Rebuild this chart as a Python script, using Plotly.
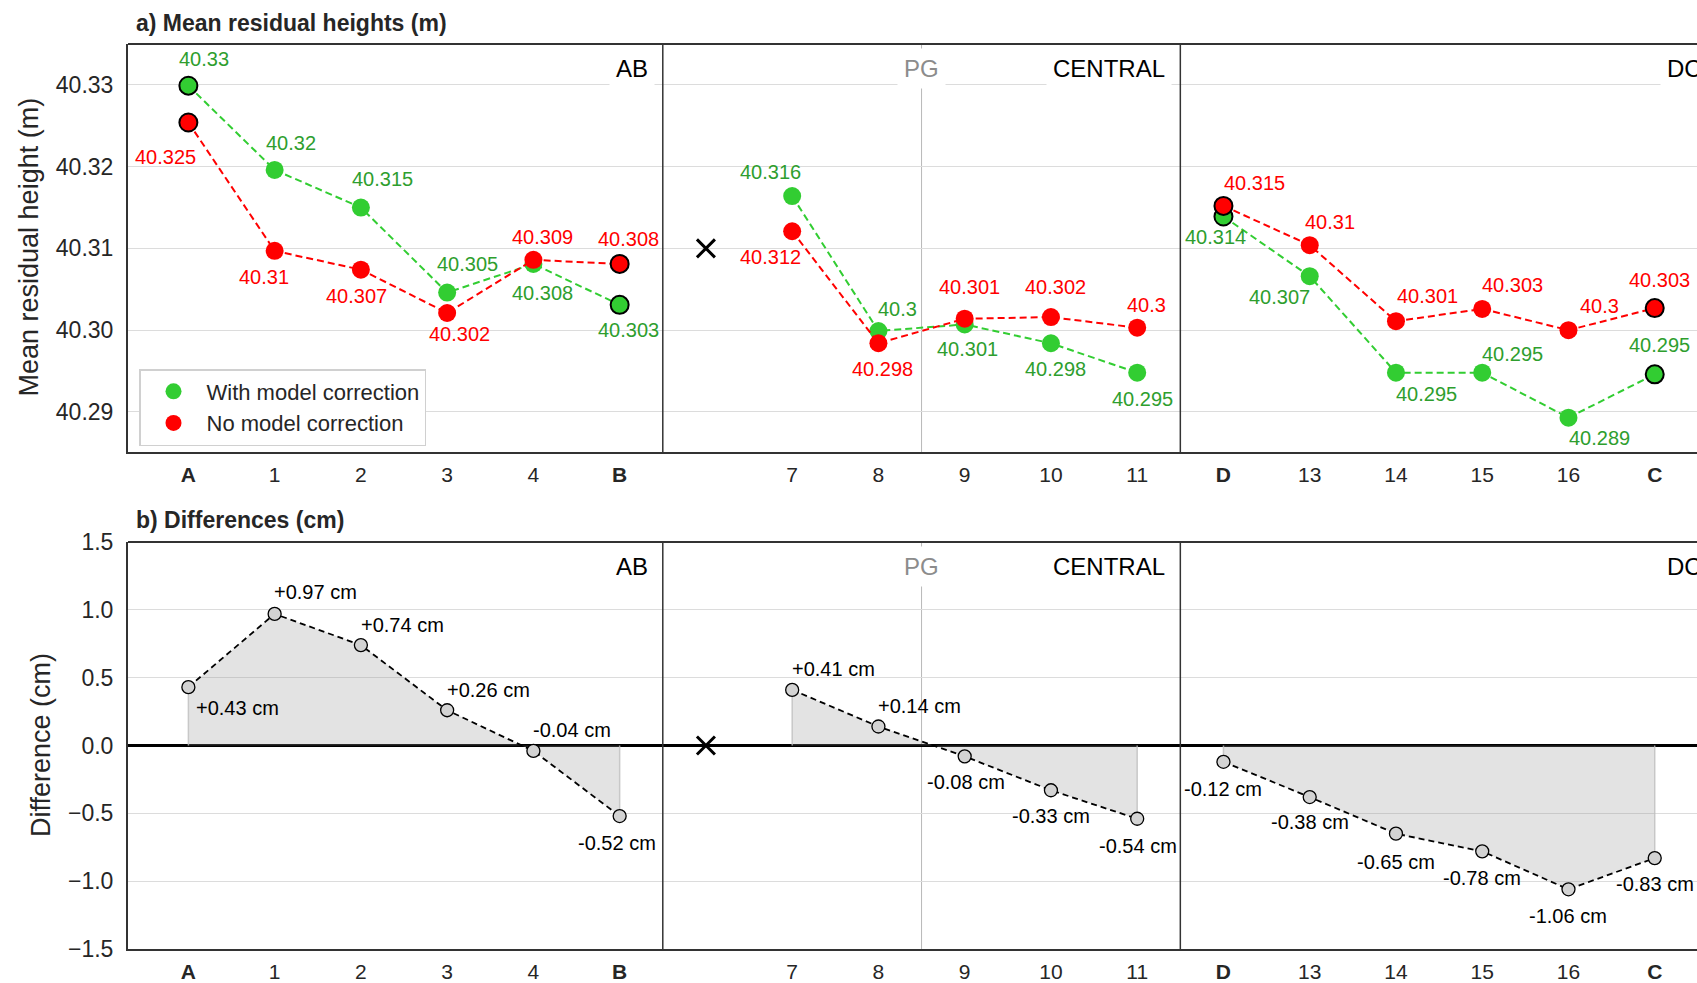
import plotly.graph_objects as go

# ---------------- data ----------------
stations = ["A", "1", "2", "3", "4", "B", "7", "8", "9", "10", "11",
            "D", "13", "14", "15", "16", "C"]
station_x = [0, 1, 2, 3, 4, 5, 7, 8, 9, 10, 11, 12, 13, 14, 15, 16, 17]
bold_stations = ["A", "B", "C", "D"]

with_corr = [40.3299, 40.3196, 40.3150, 40.3046, 40.3081, 40.3031,
             40.3164, 40.2999, 40.3007, 40.2984, 40.2948,
             40.3139, 40.3066, 40.2948, 40.2948, 40.2893, 40.2946]
no_corr = [40.3254, 40.3097, 40.3074, 40.3021, 40.3086, 40.3081,
           40.3121, 40.2984, 40.3014, 40.3016, 40.3003,
           40.3152, 40.3104, 40.3011, 40.3026, 40.3000, 40.3027]
diff_cm = [0.43, 0.97, 0.74, 0.26, -0.04, -0.52,
           0.41, 0.14, -0.08, -0.33, -0.54,
           -0.12, -0.38, -0.65, -0.78, -1.06, -0.83]

segment_names = ["AB", "CENTRAL", "DC"]
segment_slices = [(0, 6), (6, 11), (11, 17)]
outlined_idx = [0, 5, 11, 16]          # A, B, D, C
missing_x = 6                          # PG (no data)
missing_height = 40.31
missing_diff = 0.0
pg_x = 8.5
separators_x = [5.5, 11.5]

# ---------------- label offsets (px) ----------------
S = 1.082
g_off = [(14, -25), (15, -25), (20, -26), (19, -26), (8, 27), (8, 23),
         (-20, -22), (18, -20), (3, 23), (4, 24), (5, 24),
         (-7, 19), (-28, 19), (28, 20), (28, -17), (29, 19), (4, -27)]
r_off = [(-21, 32), (-10, 24), (-4, 24), (11, 19), (8, -21), (8, -23),
         (-20, 24), (4, 24), (4, -29), (4, -28), (9, -21),
         (29, -21), (19, -21), (29, -23), (28, -22), (29, -22), (4, -26)]
d_off = [(45, 19), (38, -20), (38, -19), (38, -19), (36, -19), (-2, 25),
         (38, -19), (38, -19), (1, 24), (0, 24), (1, 25),
         (0, 25), (0, 23), (0, 26), (0, 25), (0, 25), (0, 24)]

# ---------------- styles ----------------
FONT = "Liberation Sans, Arial, sans-serif"
TXT = "#262626"
GREEN = "#32cd32"
GREEN_TXT = "#2e9e2e"
RED = "#ff0000"
GRID = "#dcdcdc"
FRAME = "#333333"

W, H = 1697, 983
L, R, T, B = 128, 0, 44, 34
plot_h = H - T - B
top_dom = [(H - B - 452) / plot_h, 1.0]
bot_dom = [0.0, (H - B - 542) / plot_h]
xrange_ = [-0.7, 17.49]

fig = go.Figure()


def seg(arr, s):
    return arr[s[0]:s[1]]


# ---- top panel: lines + markers ----
for vals, col in [(with_corr, GREEN), (no_corr, RED)]:
    for s in segment_slices:
        fig.add_trace(go.Scatter(
            x=seg(station_x, s), y=seg(vals, s), mode="lines+markers",
            line=dict(color=col, width=2, dash="7px,4px"),
            marker=dict(color=col, size=18, line=dict(width=0)),
            showlegend=False, hoverinfo="skip", xaxis="x", yaxis="y"))
for vals, col in [(with_corr, GREEN), (no_corr, RED)]:
    fig.add_trace(go.Scatter(
        x=[station_x[i] for i in outlined_idx], y=[vals[i] for i in outlined_idx],
        mode="markers",
        marker=dict(color=col, size=18, line=dict(color="black", width=2)),
        showlegend=False, hoverinfo="skip", xaxis="x", yaxis="y"))

# missing station marker
fig.add_trace(go.Scatter(x=[missing_x], y=[missing_height], mode="markers",
                         marker=dict(symbol="x-thin", size=18, color="black",
                                     line=dict(color="black", width=3)),
                         showlegend=False, hoverinfo="skip", xaxis="x", yaxis="y"))

# legend entries
fig.add_trace(go.Scatter(x=[None], y=[None], mode="markers", name="With model correction",
                         marker=dict(color=GREEN, size=18), xaxis="x", yaxis="y"))
fig.add_trace(go.Scatter(x=[None], y=[None], mode="markers", name="No model correction",
                         marker=dict(color=RED, size=18), xaxis="x", yaxis="y"))

# ---- bottom panel ----
for s in segment_slices:
    xs, ys = seg(station_x, s), seg(diff_cm, s)
    fig.add_trace(go.Scatter(x=xs, y=ys, mode="lines", fill="tozeroy",
                             fillcolor="rgba(150,150,150,0.27)",
                             line=dict(width=0, color="rgba(0,0,0,0)"),
                             showlegend=False, hoverinfo="skip", xaxis="x2", yaxis="y2"))
    fig.add_trace(go.Scatter(x=[xs[0], xs[0], None, xs[-1], xs[-1]],
                             y=[0, ys[0], None, 0, ys[-1]], mode="lines",
                             line=dict(width=1.5, color="rgba(190,190,190,0.8)"),
                             showlegend=False, hoverinfo="skip", xaxis="x2", yaxis="y2"))
for s in segment_slices:
    fig.add_trace(go.Scatter(x=seg(station_x, s), y=seg(diff_cm, s), mode="lines+markers",
                             line=dict(color="black", width=1.8, dash="6px,4px"),
                             marker=dict(color="#d3d3d3", size=13,
                                         line=dict(color="black", width=1.3)),
                             showlegend=False, hoverinfo="skip", xaxis="x2", yaxis="y2"))
fig.add_trace(go.Scatter(x=[missing_x], y=[missing_diff], mode="markers",
                         marker=dict(symbol="x-thin", size=18, color="black",
                                     line=dict(color="black", width=3)),
                         showlegend=False, hoverinfo="skip", xaxis="x2", yaxis="y2"))

# ---------------- annotations ----------------
ann = []


def fmt_h(v):
    return f"{round(v, 3):g}"


def fmt_d(v):
    return f"{v:+.2f} cm" if v > 0 else f"{v:.2f} cm"


for i, xv in enumerate(station_x):
    ann.append(dict(x=xv, y=with_corr[i], xref="x", yref="y", text=fmt_h(with_corr[i]),
                    showarrow=False, xshift=g_off[i][0] * S, yshift=-g_off[i][1] * S,
                    font=dict(size=20, color=GREEN_TXT)))
    ann.append(dict(x=xv, y=no_corr[i], xref="x", yref="y", text=fmt_h(no_corr[i]),
                    showarrow=False, xshift=r_off[i][0] * S, yshift=-r_off[i][1] * S,
                    font=dict(size=20, color=RED)))
    ann.append(dict(x=xv, y=diff_cm[i], xref="x2", yref="y2", text=fmt_d(diff_cm[i]),
                    showarrow=False, xshift=d_off[i][0] * S, yshift=-d_off[i][1] * S,
                    font=dict(size=20, color="black")))

for yr in ["y", "y2"]:
    xr = "x" if yr == "y" else "x2"
    common = dict(yref=f"{yr} domain", y=1, yanchor="middle", yshift=-24, showarrow=False,
                  bgcolor="white", borderpad=6, xref=xr)
    ann.append(dict(x=separators_x[0], xanchor="right", xshift=-8, text=segment_names[0],
                    font=dict(size=24, color="black"), **common))
    ann.append(dict(x=pg_x, xanchor="center", text="PG",
                    font=dict(size=24, color="#8c8c8c"), **common))
    ann.append(dict(x=separators_x[1], xanchor="right", xshift=-8, text=segment_names[1],
                    font=dict(size=24, color="black"), **common))
    ann.append(dict(x=17.14, xanchor="left", xshift=-7, text=segment_names[2],
                    font=dict(size=24, color="black"), **common))

# titles
ann.append(dict(x=(134 - L) / (W - L - R), y=(H - B - 23) / plot_h, xref="paper", yref="paper",
                xanchor="left", yanchor="middle", showarrow=False,
                text="<b>a) Mean residual heights (m)</b>", font=dict(size=23, color=TXT)))
ann.append(dict(x=(134 - L) / (W - L - R), y=(H - B - 519.5) / plot_h, xref="paper", yref="paper",
                xanchor="left", yanchor="middle", showarrow=False,
                text="<b>b) Differences (cm)</b>", font=dict(size=23, color=TXT)))
# axis titles
ann.append(dict(x=(29 - L) / (W - L - R), y=(H - B - 247.5) / plot_h, xref="paper", yref="paper",
                xanchor="center", yanchor="middle", textangle=-90, showarrow=False,
                text="Mean residual height (m)", font=dict(size=27, color=TXT)))
ann.append(dict(x=(41 - L) / (W - L - R), y=(H - B - 745) / plot_h, xref="paper", yref="paper",
                xanchor="center", yanchor="middle", textangle=-90, showarrow=False,
                text="Difference (cm)", font=dict(size=27, color=TXT)))

# ---------------- shapes ----------------
shapes = []
for xr, yr in [("x", "y"), ("x2", "y2")]:
    shapes.append(dict(type="line", xref=xr, yref=f"{yr} domain", x0=pg_x, x1=pg_x, y0=0, y1=1,
                       line=dict(color="#b8b8b8", width=1), layer="below"))
    for sx in separators_x:
        shapes.append(dict(type="line", xref=xr, yref=f"{yr} domain", x0=sx, x1=sx, y0=0, y1=1,
                           line=dict(color=FRAME, width=1.5), layer="above"))
    shapes.append(dict(type="line", xref=f"{xr} domain", yref=f"{yr} domain", x0=0, x1=1,
                       y0=1, y1=1, line=dict(color=FRAME, width=2), layer="above"))

ticktext = [f"<b>{s}</b>" if s in bold_stations else s for s in stations]
xcommon = dict(range=xrange_, tickvals=station_x, ticktext=ticktext, showgrid=False,
               zeroline=False, showline=True, linecolor=FRAME, linewidth=2, ticks="",
               ticklabelstandoff=3, tickfont=dict(size=21, color=TXT), automargin=False)
ycommon = dict(showgrid=True, gridcolor=GRID, gridwidth=1, showline=True, linecolor=FRAME,
               linewidth=2, ticks="", ticklabelstandoff=8, tickfont=dict(size=23, color=TXT),
               automargin=False)

fig.update_layout(
    width=W, height=H, margin=dict(l=L, r=R, t=T, b=B, autoexpand=False),
    paper_bgcolor="white", plot_bgcolor="white",
    font=dict(family=FONT, color=TXT),
    xaxis=dict(domain=[0, 1], anchor="y", **xcommon),
    xaxis2=dict(domain=[0, 1], anchor="y2", **xcommon),
    yaxis=dict(domain=top_dom, anchor="x", range=[40.2851, 40.3350],
               tickvals=[40.29, 40.30, 40.31, 40.32, 40.33], tickformat=".2f",
               zeroline=False, **ycommon),
    yaxis2=dict(domain=bot_dom, anchor="x2", range=[-1.5, 1.5], dtick=0.5, tick0=0,
                tickformat=".1f", zeroline=True, zerolinecolor="black", zerolinewidth=2.5,
                **ycommon),
    legend=dict(x=(139 - L) / (W - L - R), y=(H - B - 369) / plot_h, xanchor="left",
                yanchor="top", bgcolor="white", bordercolor="#d0d0d0", borderwidth=1.5,
                font=dict(size=22, color=TXT), itemwidth=56, tracegroupgap=4),
    annotations=ann, shapes=shapes, showlegend=True,
)

fig.write_html("out.html", config={"displayModeBar": False},
               post_script="document.body.style.margin='0';document.body.style.overflow='hidden';")
